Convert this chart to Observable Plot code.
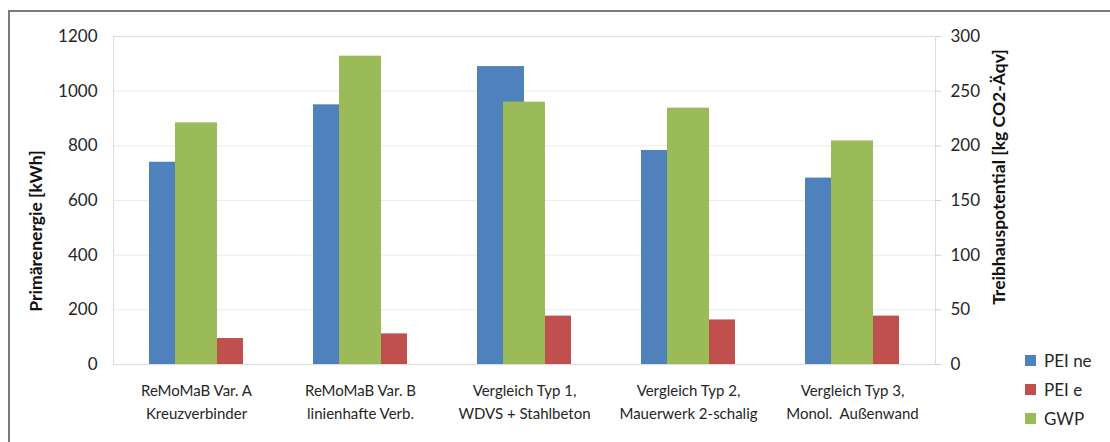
<!DOCTYPE html>
<html><head><meta charset="utf-8">
<script src="https://cdn.jsdelivr.net/npm/d3@7"></script>
<script src="https://cdn.jsdelivr.net/npm/@observablehq/plot@0.6"></script>
<style>
body{margin:0;background:#fff;}
#wrap{position:relative;width:1110px;height:442px;overflow:hidden;font-family:Lato, sans-serif;}
#frame{position:absolute;left:8px;top:10px;width:1200px;height:600px;border-left:2px solid #7a7a7a;border-top:2px solid #7a7a7a;}
#chart{position:absolute;left:0;top:0;}
#legend{position:absolute;left:1025px;top:346px;font-size:17px;color:#262626;}
.row{display:flex;align-items:center;height:29px;}
.sw{width:11px;height:11px;margin-right:8px;}
.ytitle{position:absolute;white-space:nowrap;font-weight:bold;font-size:17.5px;color:#111;transform:translate(-50%,-50%) rotate(-90deg);}
</style></head><body>
<div id="wrap"><div id="frame"></div><div id="chart"></div>
<div class="ytitle" id="tl" style="left:35px;top:231px;"></div>
<div class="ytitle" id="tr" style="left:998px;top:177px;"></div>
<div id="legend"></div></div>
<script>
const categories = ["ReMoMaB Var. A","ReMoMaB Var. B","Vergleich Typ 1","Vergleich Typ 2","Vergleich Typ 3"];
const tickLabels = ["ReMoMaB Var. A\nKreuzverbinder","ReMoMaB Var. B\nlinienhafte Verb.","Vergleich Typ 1,\nWDVS + Stahlbeton","Vergleich Typ 2,\nMauerwerk 2-schalig","Vergleich Typ 3,\nMonol.  Außenwand"];
const peiNe = [740, 950, 1090, 783, 682];
const peiE = [95, 112, 177, 163, 177];
const gwp = [221, 282, 240, 234.5, 204.5];
const leftTicks = [0, 200, 400, 600, 800, 1000, 1200];
const seriesNames = ["PEI ne", "PEI e", "GWP"];
const colors = ["#4F81BD", "#C0504D", "#9BBB59"];
const leftTitle = "Primärenergie [kWh]";
const rightTitle = "Treibhauspotential [kg CO2-Äqv]";

const ratio = 1200 / 300;
const data = categories.map((c, i) => ({cat: c, peiNe: peiNe[i], peiE: peiE[i], gwp: gwp[i] * ratio}));

const chart = Plot.plot({
  width: 1110, height: 442,
  marginLeft: 113, marginRight: 175, marginTop: 36, marginBottom: 78,
  style: {fontFamily: "Lato, sans-serif", fontSize: "17px", color: "#262626", background: "transparent"},
  x: {domain: categories, padding: 0, label: null},
  y: {domain: [0, 1200], label: null},
  marks: [
    Plot.gridY(leftTicks, {stroke: "#ebebeb", strokeOpacity: 1}),
    Plot.frame({stroke: "#dddddd"}),
    Plot.barY(data, {x: "cat", y: "peiNe", fill: colors[0], insetLeft: 35, insetRight: 82}),
    Plot.barY(data, {x: "cat", y: "peiE", fill: colors[1], insetLeft: 82, insetRight: 35}),
    Plot.barY(data, {x: "cat", y: "gwp", fill: colors[2], insetLeft: 61, insetRight: 61}),
    Plot.axisY(leftTicks, {anchor: "left", tickSize: 0, tickPadding: 16, fontSize: 17, tickFormat: d => String(d), label: null}),
    Plot.axisY(leftTicks, {anchor: "right", tickSize: 5, tickPadding: 10, fontSize: 17, stroke: "#d0d0d0", tickFormat: d => String(d / ratio), label: null}),
    Plot.axisX({anchor: "bottom", tickSize: 0, tickPadding: 16, fontSize: 15, lineHeight: 1.5, tickFormat: d => tickLabels[categories.indexOf(d)], label: null})
  ]
});
document.getElementById("chart").appendChild(chart);
document.getElementById("tl").textContent = leftTitle;
document.getElementById("tr").textContent = rightTitle;

const legend = document.getElementById("legend");
seriesNames.forEach((n, i) => {
  const r = document.createElement("div"); r.className = "row";
  const s = document.createElement("div"); s.className = "sw"; s.style.background = colors[i];
  const t = document.createElement("span"); t.textContent = n;
  r.appendChild(s); r.appendChild(t); legend.appendChild(r);
});
</script>
</body></html>
